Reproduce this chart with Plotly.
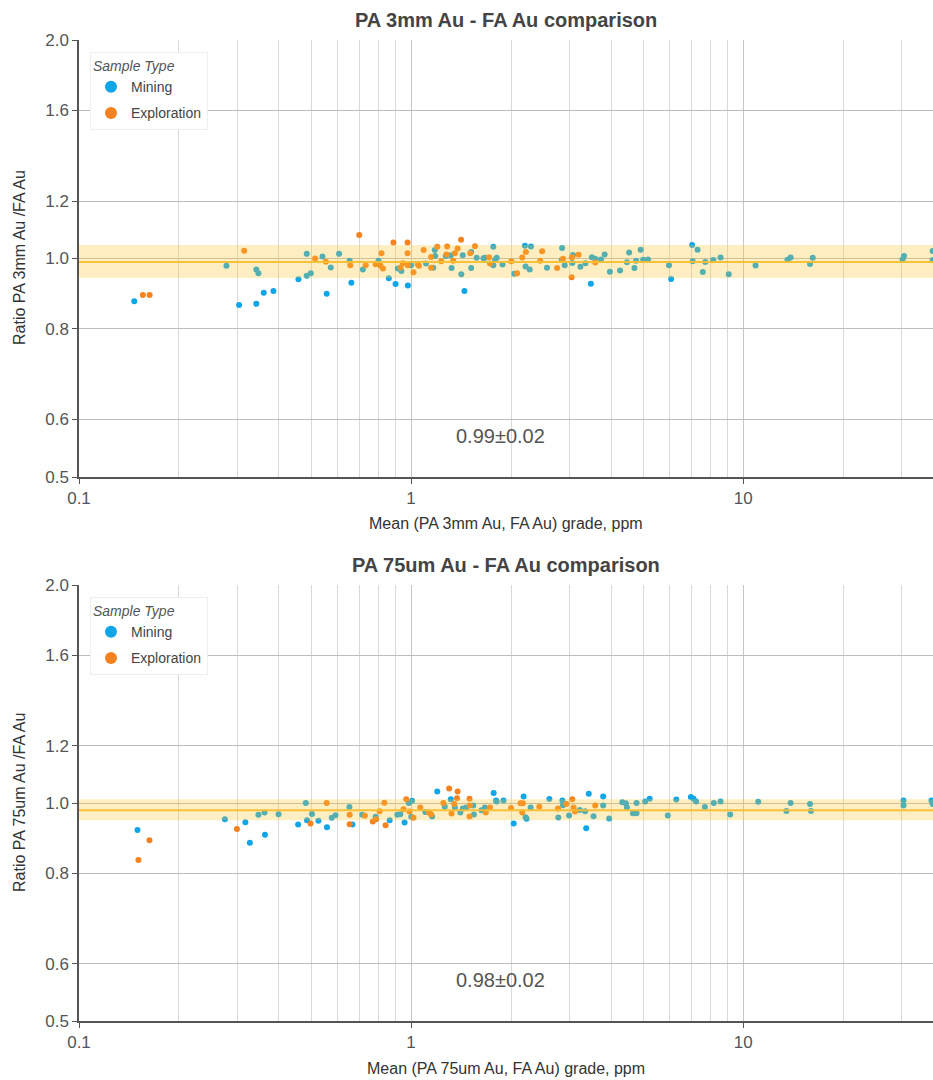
import math
import plotly.graph_objects as go

# ---------------- data ----------------
top_mining_x = [0.1467, 0.278, 0.3034, 0.342, 0.347, 0.342, 0.360, 0.385, 0.458, 0.485, 0.499, 0.485, 0.541,
                0.557, 0.573, 0.607, 0.653, 0.661, 0.716, 0.798, 0.857, 0.898, 0.912, 0.935, 0.978, 1.0,
                1.109, 1.166, 1.179, 1.182, 1.272, 1.317, 1.324, 1.417, 1.431, 1.448, 1.517, 1.517, 1.576,
                1.652, 1.668, 1.769, 1.769, 1.790, 1.811, 1.885, 2.046, 2.202, 2.212, 2.276, 2.296, 2.566,
                2.849, 2.843, 2.901, 3.074, 3.059, 3.235, 3.351, 3.478, 3.503, 3.585, 3.730, 3.828, 3.969,
                4.259, 4.467, 4.536, 4.705, 4.761, 4.913, 5.0, 5.17, 5.98, 6.07, 7.02, 7.29, 7.05, 7.56,
                7.69, 8.13, 8.55, 9.05, 10.9, 13.6, 13.9, 15.9, 16.2, 30.2, 30.5, 37.2, 37.2]
top_mining_y = [0.873, 0.977, 0.863, 0.966, 0.954, 0.866, 0.897, 0.902, 0.936, 0.947, 0.954, 1.015, 1.006,
                0.894, 0.972, 1.015, 0.993, 0.926, 0.966, 0.993, 0.939, 0.922, 0.969, 0.961, 0.918, 0.979,
                0.984, 0.971, 1.027, 1.008, 1.008, 1.010, 0.970, 0.951, 1.010, 0.902, 1.021, 0.970, 1.002,
                1.001, 1.002, 1.038, 0.979, 0.995, 1.002, 0.981, 0.953, 1.041, 0.975, 0.966, 1.039, 0.971,
                1.034, 0.995, 0.979, 1.011, 0.986, 0.974, 0.985, 0.923, 1.004, 0.999, 0.997, 1.013, 0.959,
                0.963, 0.988, 1.019, 0.970, 0.993, 1.028, 0.996, 0.997, 0.979, 0.937, 1.044, 1.028, 0.991, 0.958,
                0.989, 0.995, 1.003, 0.951, 0.978, 0.996, 1.003, 0.983, 1.002, 0.997, 1.008, 1.024, 0.995]

top_expl_x = [0.1557, 0.1632, 0.3143, 0.514, 0.554, 0.656, 0.698, 0.730, 0.782, 0.809, 0.815, 0.823, 0.885,
              0.930, 0.945, 0.976, 0.976, 0.978, 1.017, 1.047, 1.056, 1.091, 1.149, 1.149, 1.199, 1.233,
              1.284, 1.278, 1.339, 1.355, 1.381, 1.414, 1.507, 1.557, 1.716, 1.728, 2.003, 2.086, 2.161,
              2.217, 2.449, 2.481, 2.753, 2.868, 3.044, 3.051, 3.194, 3.585]
top_expl_y = [0.891, 0.891, 1.025, 1.0, 0.990, 0.979, 1.077, 0.979, 0.982, 0.977, 1.017, 0.969, 1.052,
              0.972, 0.985, 1.052, 1.017, 0.979, 0.957, 0.982, 0.977, 1.027, 1.005, 0.971, 1.038, 0.991,
              1.039, 1.013, 0.993, 1.017, 1.032, 1.061, 1.017, 1.040, 1.004, 0.984, 0.991, 0.954, 1.003,
              1.021, 0.993, 1.023, 0.970, 0.999, 0.942, 1.004, 1.012, 0.987]

bot_mining_x = [0.150, 0.275, 0.317, 0.327, 0.347, 0.362, 0.363, 0.399, 0.457, 0.482, 0.486, 0.503, 0.526,
                0.558, 0.577, 0.592, 0.652, 0.666, 0.713, 0.782, 0.862, 0.909, 0.928, 0.956, 0.985, 1.007,
                1.001, 1.104, 1.157, 1.199, 1.263, 1.317, 1.355, 1.407, 1.431, 1.465, 1.539, 1.546, 1.629,
                1.668, 1.773, 1.802, 1.811, 1.898, 2.037, 2.182, 2.212, 2.228, 2.291, 2.609, 2.776, 2.855,
                2.868, 2.991, 3.222, 3.343, 3.368, 3.428, 3.545, 3.789, 3.789, 3.948, 4.327, 4.434, 4.467,
                4.655, 4.775, 4.775, 5.07, 5.23, 5.93, 6.29, 6.96, 7.09, 7.22, 7.67, 8.16, 8.55, 9.14, 11.1,
                13.5, 13.9, 15.9, 16.0, 30.4, 30.4, 36.9, 37.2]
bot_mining_y = [0.918, 0.950, 0.941, 0.881, 0.963, 0.970, 0.904, 0.965, 0.934, 1.0, 0.947, 0.966, 0.945,
                0.926, 0.954, 0.962, 0.987, 0.934, 0.963, 0.957, 0.947, 0.963, 0.965, 0.940, 1.0, 1.007,
                0.957, 0.972, 0.958, 1.037, 0.988, 1.012, 0.986, 0.970, 0.983, 0.986, 0.992, 0.964, 0.977,
                0.986, 1.032, 1.008, 1.005, 1.008, 0.937, 1.021, 0.956, 0.951, 0.986, 1.013, 0.955, 1.008,
                0.993, 0.961, 0.978, 0.974, 0.923, 1.030, 0.959, 1.021, 0.992, 0.952, 1.002, 0.999, 0.986,
                0.968, 0.968, 1.0, 1.005, 1.014, 0.961, 1.011, 1.019, 1.014, 1.005, 0.987, 1.0, 1.005, 0.964, 1.004,
                0.975, 1.0, 0.997, 0.975, 1.008, 0.992, 1.008, 0.997]

bot_expl_x = [0.163, 0.151, 0.299, 0.498, 0.557, 0.653, 0.653, 0.726, 0.767, 0.785, 0.804, 0.831, 0.838,
              0.949, 0.967, 0.989, 1.017, 1.066, 1.131, 1.149, 1.251, 1.302, 1.349, 1.381, 1.375, 1.324,
              1.500, 1.504, 1.500, 1.679, 1.728, 1.998, 2.136, 2.171, 2.161, 2.433, 2.770, 2.935, 3.059,
              3.087, 3.115, 3.585]
bot_expl_y = [0.888, 0.834, 0.921, 0.937, 1.0, 0.963, 0.935, 0.960, 0.943, 0.950, 0.974, 1.001, 0.932,
              0.980, 1.012, 0.973, 0.954, 0.986, 0.970, 0.964, 1.0, 1.047, 0.997, 1.037, 1.015, 0.967,
              1.014, 0.992, 0.958, 0.970, 0.986, 0.984, 0.999, 0.999, 0.970, 0.988, 0.983, 0.997, 1.012,
              0.986, 0.973, 0.992]

mean_ratio = [0.989, 0.977]
band_low = [0.940, 0.947]
band_high = [1.044, 1.012]
stat_labels = ["0.99±0.02", "0.98±0.02"]
titles = ["PA 3mm Au - FA Au comparison", "PA 75um Au - FA Au comparison"]
x_titles = ["Mean (PA 3mm Au, FA Au) grade, ppm", "Mean (PA 75um Au, FA Au) grade, ppm"]
y_titles = ["Ratio PA 3mm Au /FA Au", "Ratio PA 75um Au /FA Au"]
series_names = ["Mining", "Exploration"]
x_tick_vals = [0.1, 1, 10]
x_tick_text = ["0.1", "1", "10"]
x_minor_vals = [0.2, 0.3, 0.4, 0.5, 0.6, 0.7, 0.8, 0.9, 2, 3, 4, 5, 6, 7, 8, 9, 20, 30]
y_tick_vals = [0.5, 0.6, 0.8, 1.0, 1.2, 1.6, 2.0]
y_tick_text = ["0.5", "0.6", "0.8", "1.0", "1.2", "1.6", "2.0"]

# ---------------- styling ----------------
BLUE = "#0ea5e9"
ORANGE = "#f5821f"
TXT = "#444444"
FONT = "Arial, Liberation Sans, sans-serif"

W, H = 933, 1080
ML, MR, MT, MB = 79, 0, 40, 59
PH = H - MT - MB

def py(px):
    return (H - MB - px) / PH

def pxx(px):
    return (px - ML) / (W - ML - MR)

fig = go.Figure()

sets = [
    (top_mining_x, top_mining_y, top_expl_x, top_expl_y),
    (bot_mining_x, bot_mining_y, bot_expl_x, bot_expl_y),
]
for i, (mx, my, ex, ey) in enumerate(sets):
    xa = "x" if i == 0 else "x2"
    ya = "y" if i == 0 else "y2"
    lg = "legend" if i == 0 else "legend2"
    fig.add_trace(go.Scatter(x=mx, y=my, mode="markers", name=series_names[0],
                             marker=dict(color=BLUE, size=6, line=dict(width=0)),
                             xaxis=xa, yaxis=ya, legend=lg, legendgroup=f"m{i}"))
    fig.add_trace(go.Scatter(x=ex, y=ey, mode="markers", name=series_names[1],
                             marker=dict(color=ORANGE, size=6, line=dict(width=0)),
                             xaxis=xa, yaxis=ya, legend=lg, legendgroup=f"e{i}"))

domains = [[py(477), py(40)], [py(1021), py(585)]]

def xaxis_cfg(anchor):
    return dict(type="log", range=[-1, math.log10(37.3)], tickmode="array",
                tickvals=x_tick_vals, ticktext=x_tick_text, showgrid=True, gridcolor="#c6c6c6",
                gridwidth=1,
                minor=dict(tickmode="array", tickvals=x_minor_vals, showgrid=True,
                           gridcolor="#d9d9d9", gridwidth=1, ticks=""),
                showline=True, linecolor="#555555", linewidth=2, ticks="outside", ticklen=5,
                tickcolor="#555555", tickfont=dict(size=17, color="#555555", family=FONT),
                zeroline=False, anchor=anchor, domain=[0, 1])

def yaxis_cfg(anchor, dom):
    return dict(type="log", range=[math.log10(0.5), math.log10(2.0)], tickmode="array",
                tickvals=y_tick_vals, ticktext=y_tick_text, showgrid=True, gridcolor="#bdbdbd",
                gridwidth=1, showline=True, linecolor="#555555", linewidth=1.5, ticks="outside",
                ticklen=5, tickcolor="#555555", tickfont=dict(size=17, color="#555555", family=FONT),
                zeroline=False, anchor=anchor, domain=dom)

shapes = []
annotations = []
for i in range(2):
    xr = "x domain" if i == 0 else "x2 domain"
    yr = "y" if i == 0 else "y2"
    shapes.append(dict(type="rect", xref=xr, x0=0, x1=1, yref=yr, y0=band_low[i], y1=band_high[i],
                       fillcolor="rgba(253,200,50,0.30)", line=dict(width=0), layer="above"))
    shapes.append(dict(type="line", xref=xr, x0=0, x1=1, yref=yr, y0=mean_ratio[i], y1=mean_ratio[i],
                       line=dict(color="rgba(247,190,50,0.95)", width=2), layer="above"))

title_y = [20, 565]
xt_y = [523, 1068]
yt_y = [258, 803]
stat_y = [436, 980]
for i in range(2):
    annotations.append(dict(text="<b>" + titles[i] + "</b>", xref="paper", yref="paper",
                            x=pxx(506), y=py(title_y[i]), xanchor="center", yanchor="middle",
                            showarrow=False, font=dict(size=20, color=TXT, family=FONT)))
    annotations.append(dict(text=x_titles[i], xref="paper", yref="paper",
                            x=pxx(506), y=py(xt_y[i]), xanchor="center", yanchor="middle",
                            showarrow=False, font=dict(size=16, color="#333333", family=FONT)))
    annotations.append(dict(text=y_titles[i], xref="paper", yref="paper", textangle=-90,
                            x=pxx(19), y=py(yt_y[i]), xanchor="center", yanchor="middle",
                            showarrow=False, font=dict(size=16, color="#333333", family=FONT)))
    annotations.append(dict(text=stat_labels[i], xref="paper", yref="paper",
                            x=pxx(500), y=py(stat_y[i]), xanchor="center", yanchor="middle",
                            showarrow=False, font=dict(size=20, color="#555555", family=FONT)))

legend_common = dict(bgcolor="rgba(255,255,255,0.95)", bordercolor="#eeeeee", borderwidth=1,
                     font=dict(size=14, color=TXT, family=FONT),
                     title=dict(text="<i>Sample Type</i>", font=dict(size=14, color="#555555", family=FONT)),
                     xanchor="left", yanchor="top", itemsizing="constant", tracegroupgap=5,
                     itemwidth=30)

fig.update_layout(
    width=W, height=H, margin=dict(l=ML, r=MR, t=MT, b=MB),
    paper_bgcolor="white", plot_bgcolor="white",
    font=dict(family=FONT, color=TXT),
    xaxis=xaxis_cfg("y"), yaxis=yaxis_cfg("x", domains[0]),
    xaxis2=xaxis_cfg("y2"), yaxis2=yaxis_cfg("x2", domains[1]),
    legend=dict(x=pxx(90), y=py(52), **legend_common),
    legend2=dict(x=pxx(90), y=py(597), **legend_common),
    shapes=shapes, annotations=annotations, showlegend=True,
)

fig.write_html("out.html")
